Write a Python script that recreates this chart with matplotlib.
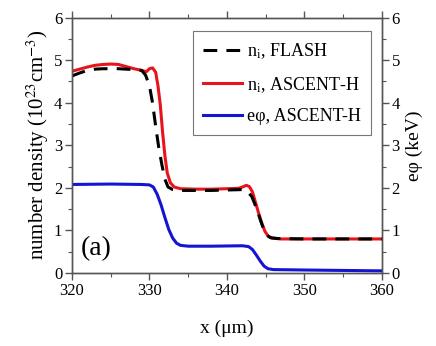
import matplotlib.pyplot as plt
from matplotlib.ticker import MultipleLocator

plt.rcParams['font.family'] = 'Liberation Serif'
plt.rcParams['mathtext.fontset'] = 'stix'

# n_i, FLASH
x_flash = [320, 321, 322, 323, 324, 326, 327, 328, 329, 329.5, 330.0, 330.4, 330.8, 331.2, 331.6,
           332.0, 332.4, 333.0, 334, 336, 338, 340, 342, 342.6, 343.2, 343.6, 344.0, 344.4, 344.8,
           345.2, 345.6, 346.5, 350, 360]
n_flash = [4.63, 4.70, 4.76, 4.79, 4.80, 4.80, 4.79, 4.78, 4.76, 4.65, 4.40, 4.00, 3.45, 2.95, 2.55,
           2.20, 2.02, 1.96, 1.94, 1.94, 1.94, 1.95, 1.96, 1.92, 1.80, 1.62, 1.42, 1.20, 1.00,
           0.88, 0.83, 0.81, 0.80, 0.80]

# n_i, ASCENT-H
x_asc = [320, 321, 322, 323, 324, 325, 326, 327, 328, 329, 329.6, 330.0, 330.4, 330.8, 331.1, 331.4,
         331.7, 332.0, 332.3, 332.7, 333.2, 334, 336, 338, 340, 341.5, 342.0, 342.5, 342.9, 343.3,
         343.7, 344.1, 344.5, 344.9, 345.3, 345.8, 347, 350, 355, 360]
n_asc = [4.74, 4.79, 4.84, 4.88, 4.90, 4.91, 4.90, 4.85, 4.80, 4.76, 4.73, 4.80, 4.82, 4.72, 4.40, 3.95,
         3.30, 2.75, 2.35, 2.12, 2.02, 1.98, 1.97, 1.97, 1.98, 1.99, 2.02, 2.06, 2.03, 1.90,
         1.65, 1.40, 1.17, 0.98, 0.87, 0.82, 0.80, 0.80, 0.80, 0.80]

# e phi, ASCENT-H
x_phi = [320, 325, 329, 330, 330.5, 331, 331.5, 332, 332.5, 333, 333.5, 334, 335, 338, 342, 342.8,
         343.3, 343.8, 344.3, 344.8, 345.3, 346, 350, 355, 360]
phi = [2.08, 2.09, 2.08, 2.07, 2.02, 1.85, 1.60, 1.30, 1.02, 0.82, 0.70, 0.65, 0.63, 0.63, 0.64, 0.62,
       0.55, 0.42, 0.28, 0.16, 0.10, 0.08, 0.07, 0.06, 0.05]

fig = plt.figure(figsize=(4.36, 3.46), dpi=100)
ax = fig.add_axes([0.165, 0.211, 0.711, 0.738])
ax2 = ax.twinx()

l1, = ax.plot(x_flash, n_flash, color='black', lw=2.2, ls=(0, (4.5, 3)), zorder=3)
l2, = ax.plot(x_asc, n_asc, color='#e8141c', lw=2.2, zorder=2)
l3, = ax2.plot(x_phi, phi, color='#1414d2', lw=2.2)

ax.set_xlim(320, 360)
ax.set_ylim(0, 6)
ax2.set_ylim(0, 6)

for a in (ax, ax2):
    a.xaxis.set_major_locator(MultipleLocator(10))
    a.xaxis.set_minor_locator(MultipleLocator(5))
    a.yaxis.set_major_locator(MultipleLocator(1))
    a.yaxis.set_minor_locator(MultipleLocator(0.5))
    a.tick_params(which='major', direction='out', length=5, width=1, labelsize=12, pad=2)
    a.tick_params(which='minor', direction='out', length=3, width=0.8)
    for s in a.spines.values():
        s.set_color('#555555')
        s.set_linewidth(1.0)

ax.tick_params(which='both', top=True, colors='#555555', labelcolor='black')
ax2.tick_params(which='both', colors='#555555', labelcolor='black')

ax.set_xlabel('x (μm)', fontsize=14, labelpad=15)
ax.set_ylabel(r'number density (10$^{23}$cm$^{-3}$)', fontsize=15, labelpad=2)
ax2.set_ylabel('eφ (keV)', fontsize=14, labelpad=4)

ax.text(321.2, 0.42, '(a)', fontsize=20)

leg = ax.legend([l1, l2, l3],
                ['n$_{\\rm i}$, FLASH', 'n$_{\\rm i}$, ASCENT-H', 'eφ, ASCENT-H'],
                loc='upper right', bbox_to_anchor=(0.975, 0.96), fontsize=13,
                handlelength=2.2, handletextpad=0.25, borderpad=0.55, labelspacing=0.75,
                borderaxespad=0.2,
                fancybox=False, framealpha=1, edgecolor='#777777')
leg.get_frame().set_linewidth(0.8)

fig.savefig('out.png', dpi=100)
